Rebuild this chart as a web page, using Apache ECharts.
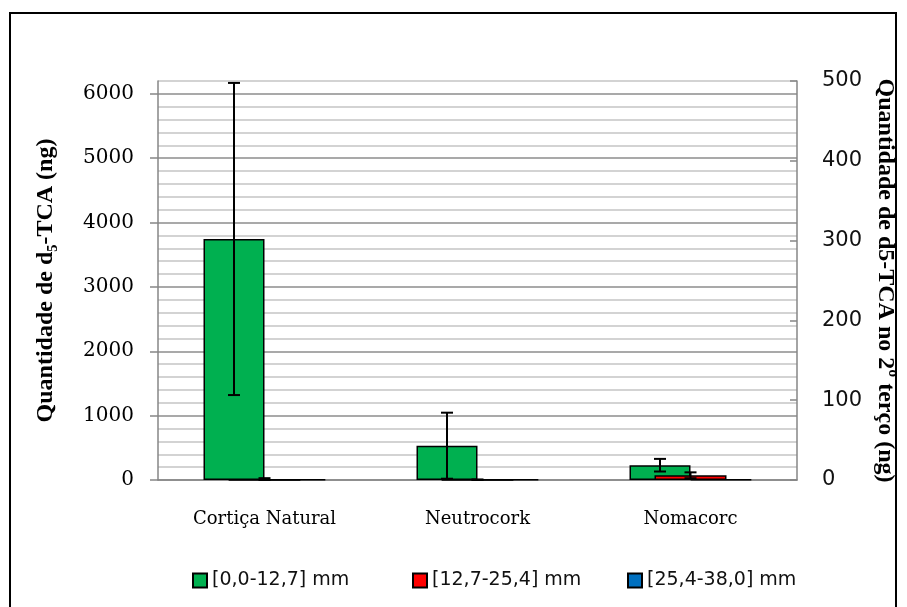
<!DOCTYPE html>
<html>
<head>
<meta charset="utf-8">
<script src="https://cdn.jsdelivr.net/npm/echarts@6/dist/echarts.min.js"></script>
<style>
  html, body { margin: 0; background: #fff; }
  #chart { width: 907px; height: 607px; }
</style>
</head>
<body>
<div id="chart"></div>
<script>
const categories = ["Cortiça Natural", "Neutrocork", "Nomacorc"];
const seriesNames = ["[0,0-12,7] mm", "[12,7-25,4] mm", "[25,4-38,0] mm"];

// 1st series on the left axis (ng)
const greenValues = [3745, 533, 230];
const greenErrors = [2425, 513, 98];
// 2nd series on the right axis (ng, 2nd third)
const redValues = [0.3, 0.3, 5.9];
const redErrors = [2.0, 0.4, 3.7];
// 3rd series on the left axis, near zero
const blueValues = [5, 5, 5];

const leftTicks = [0, 1000, 2000, 3000, 4000, 5000, 6000];
const rightTicks = [0, 100, 200, 300, 400, 500];

const LEFT_MAX = 6200;
const GREEN_W = 61;
const RED_W = 72;
const axisGrey = "#868686";

function errorBars(values, errors, offset, xi, yi) {
  return {
    type: "custom",
    xAxisIndex: xi,
    yAxisIndex: yi,
    z: 10,
    silent: true,
    data: values.map((v, i) => [i, v, errors[i]]),
    renderItem(params, api) {
      const i = api.value(0), v = api.value(1), e = api.value(2);
      const hi = api.coord([i, v + e]);
      const lo = api.coord([i, Math.max(v - e, 0)]);
      const x = hi[0] + offset;
      const style = { stroke: "#000", lineWidth: 2 };
      return {
        type: "group",
        children: [
          { type: "line", shape: { x1: x, y1: hi[1], x2: x, y2: lo[1] }, style },
          { type: "line", shape: { x1: x - 6, y1: hi[1], x2: x + 6, y2: hi[1] }, style },
          { type: "line", shape: { x1: x - 6, y1: lo[1], x2: x + 6, y2: lo[1] }, style },
        ],
      };
    },
  };
}

const legendText = { fontFamily: "DejaVu Sans", fontSize: 19, color: "#111" };
const legendBase = { top: 566, itemWidth: 14, itemHeight: 14, itemGap: 10, icon: "rect", textStyle: legendText };

const chart = echarts.init(document.getElementById("chart"));
chart.setOption({
  backgroundColor: "#fff",
  animation: false,
  graphic: [
    { type: "rect", shape: { x: 10, y: 13, width: 886, height: 610 }, style: { fill: "none", stroke: "#000", lineWidth: 2 } },
  ],
  grid: { left: 158, right: 110, top: 81, bottom: 127 },
  legend: [
    Object.assign({ left: 187, data: [seriesNames[0]] }, legendBase),
    Object.assign({ left: 407, data: [seriesNames[1]] }, legendBase),
    Object.assign({ left: 622, data: [seriesNames[2]] }, legendBase),
  ],
  xAxis: [
    {
      type: "category",
      data: categories,
      axisLine: { lineStyle: { color: axisGrey, width: 1.5 } },
      axisTick: { length: 7, lineStyle: { color: axisGrey, width: 1.5 } },
      axisLabel: { fontFamily: "DejaVu Serif", fontSize: 18, color: "#000", margin: 30 },
    },
    { type: "category", data: categories, show: false },
  ],
  yAxis: [
    {
      // left axis: grid lines every 200
      type: "value",
      min: 0,
      max: LEFT_MAX,
      interval: 200,
      axisLine: { show: true, lineStyle: { color: axisGrey, width: 1.5 } },
      axisTick: { show: false },
      axisLabel: { show: false },
      splitLine: { show: true, lineStyle: { color: ["#8c8c8c", "#c4c4c4", "#c4c4c4", "#c4c4c4", "#c4c4c4"], width: 1.5 } },
    },
    {
      type: "value",
      min: 0,
      max: 500,
      interval: 100,
      position: "right",
      name: "Quantidade de d5-TCA no 2º terço (ng)",
      nameLocation: "middle",
      nameRotate: -90,
      nameGap: 75,
      nameTextStyle: { fontFamily: "Liberation Serif", fontWeight: "bold", fontSize: 24, color: "#000" },
      axisLine: { show: true, lineStyle: { color: axisGrey, width: 1.5 } },
      axisTick: { show: true, inside: true, length: 7, customValues: rightTicks, lineStyle: { color: axisGrey, width: 1.5 } },
      axisLabel: { customValues: rightTicks, fontFamily: "DejaVu Sans", fontSize: 21, color: "#111", margin: 25 },
      splitLine: { show: false },
    },
    {
      // left axis: labels and ticks every 1000
      type: "value",
      position: "left",
      min: 0,
      max: LEFT_MAX,
      interval: 1000,
      name: "Quantidade de d₅-TCA (ng)",
      nameLocation: "middle",
      nameRotate: 90,
      nameGap: 100,
      nameTextStyle: { fontFamily: "Liberation Serif", fontWeight: "bold", fontSize: 24, color: "#000" },
      axisLine: { show: false },
      axisTick: { show: true, length: 8, customValues: leftTicks, lineStyle: { color: axisGrey, width: 1.5 } },
      axisLabel: { customValues: leftTicks, formatter: (v) => String(v), fontFamily: "DejaVu Serif", fontSize: 20, color: "#000", margin: 24 },
      splitLine: { show: false },
    },
  ],
  series: [
    {
      name: seriesNames[0], type: "bar", xAxisIndex: 0, yAxisIndex: 0,
      data: greenValues, barWidth: GREEN_W, barGap: "0%",
      itemStyle: { color: "#00B050", borderColor: "#000", borderWidth: 1.5 },
    },
    {
      name: seriesNames[2], type: "bar", xAxisIndex: 0, yAxisIndex: 0,
      data: blueValues, barWidth: GREEN_W, barGap: "0%",
      itemStyle: { color: "#0070C0", borderColor: "#000", borderWidth: 1.5 },
    },
    {
      name: seriesNames[1], type: "bar", xAxisIndex: 1, yAxisIndex: 1,
      data: redValues, barWidth: RED_W,
      itemStyle: { color: "#FF0000", borderColor: "#000", borderWidth: 1.5 },
    },
    errorBars(greenValues, greenErrors, -GREEN_W / 2, 0, 0),
    errorBars(redValues, redErrors, 0, 1, 1),
  ],
});
</script>
</body>
</html>
